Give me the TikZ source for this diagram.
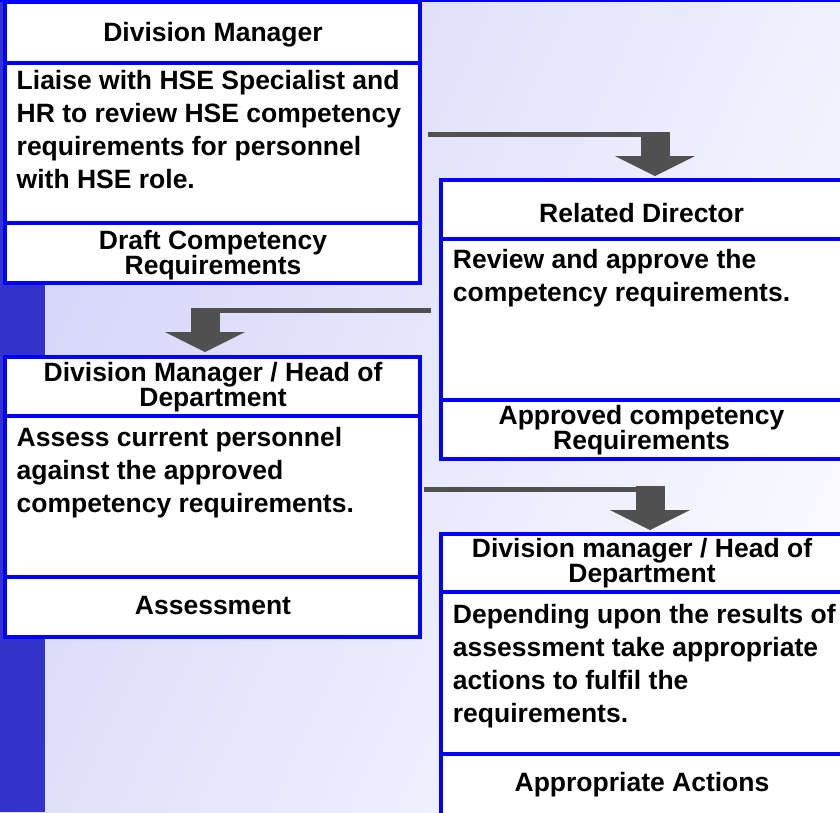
\documentclass[tikz,border=0pt]{standalone}
\usepackage{fontspec}
\setmainfont{Liberation Sans}
\usetikzlibrary{calc}
\definecolor{bardark}{RGB}{51,51,204}
\definecolor{lavdark}{RGB}{213,213,249}
\definecolor{lavlight}{RGB}{249,249,255}
\definecolor{arrowgray}{RGB}{80,80,80}
\definecolor{boxblue}{RGB}{0,0,255}
\tikzset{
  boxframe/.style={draw=boxblue, line width=4pt, fill=white, rectangle, inner sep=0pt, outer sep=0pt, anchor=north west},
  divider/.style={draw=boxblue, line width=4pt},
  titletext/.style={inner sep=0pt, align=center, font=\fontsize{26.5}{25}\selectfont\bfseries},
  bodytext/.style={inner sep=0pt, align=left, anchor=north west, font=\fontsize{26.5}{33}\selectfont\bfseries},
  conn/.style={draw=arrowgray, line width=5pt},
}
\newcommand\flowarrow[2]{%
  \draw[conn] (#1) -- (#1 -| #2);
  \fill[arrowgray] ($(#2)+(-14.5,-44)$) rectangle ($(#2)+(14.5,-19)$);
  \fill[arrowgray] ($(#2)+(-40,-20)$) -- ($(#2)+(40,-20)$) -- (#2) -- cycle;
}
\begin{document}
\begin{tikzpicture}[x=1pt,y=-1pt]
\useasboundingbox (0,0) rectangle (840,812);
\clip (0,0) rectangle (840,812);
% background
\shade[top color=lavdark, bottom color=lavlight, shading angle=65] (0,0) rectangle (840,812);
\fill[bardark] (0,0) rectangle (45,812);
\draw[boxblue, line width=1.5pt] (0,0.75) -- (840,0.75);

% box 1
\node[boxframe, minimum width=415.3pt, minimum height=281pt] (b1) at (5,2) {};
\draw[divider] (5,63) -- (420.3,63);
\draw[divider] (5,223) -- (420.3,223);
\node[titletext] (b1t) at (213,35) {Division Manager};
\node[bodytext] (b1b) at (16.5,70) {Liaise with HSE Specialist and\\HR to review HSE competency\\requirements for personnel\\with HSE role.};
\node[titletext] (b1f) at (213,255) {Draft Competency\\Requirements};

% box 2
\node[boxframe, minimum width=400.7pt, minimum height=279pt] (b2) at (441.3,180) {};
\draw[divider] (441.3,238.7) -- (842,238.7);
\draw[divider] (441.3,400) -- (842,400);
\node[titletext] (b2t) at (641.5,213) {Related Director};
\node[bodytext] (b2b) at (452.7,249) {Review and approve the\\competency requirements.};
\node[titletext] (b2f) at (641.5,430) {Approved competency\\Requirements};

% box 3
\node[boxframe, minimum width=415.3pt, minimum height=280pt] (b3) at (5,357) {};
\draw[divider] (5,416) -- (420.3,416);
\draw[divider] (5,577) -- (420.3,577);
\node[titletext] (b3t) at (213,387) {Division Manager / Head of\\Department};
\node[bodytext] (b3b) at (16.5,427) {Assess current personnel\\against the approved\\competency requirements.};
\node[titletext] (b3f) at (213,606) {Assessment};

% box 4
\node[boxframe, minimum width=400.7pt, minimum height=300pt] (b4) at (441.3,534) {};
\draw[divider] (441.3,592) -- (842,592);
\draw[divider] (441.3,754) -- (842,754);
\node[titletext] (b4t) at (642,563) {Division manager / Head of\\Department};
\node[bodytext] (b4b) at (452.7,604) {Depending upon the results of\\assessment take appropriate\\actions to fulfil the\\requirements.};
\node[titletext] (b4f) at (642,785) {Appropriate Actions};

% connectors
\coordinate (s1) at (428,134.5);
\coordinate (e1) at (655,176);
\flowarrow{s1}{e1}
\coordinate (s2) at (431,310.8);
\coordinate (e2) at (205,352);
\flowarrow{s2}{e2}
\coordinate (s3) at (424,489.8);
\coordinate (e3) at (650,530);
\flowarrow{s3}{e3}
\end{tikzpicture}
\end{document}
